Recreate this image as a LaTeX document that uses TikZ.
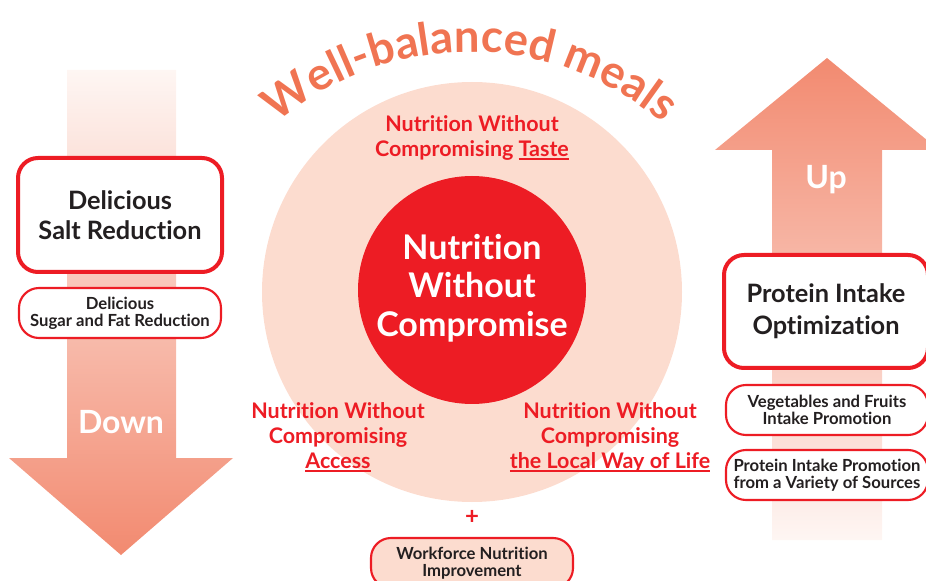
\documentclass[tikz,border=0pt]{standalone}
\usepackage{fontspec}
\setmainfont{Lato}[Ligatures={NoCommon}]
\usetikzlibrary{decorations.text}
\definecolor{cred}{HTML}{ED1C24}
\definecolor{peach}{HTML}{FCDCCF}
\definecolor{wbc}{HTML}{F07452}
\definecolor{adark}{HTML}{F28A70}
\definecolor{amid}{HTML}{F9CDBF}
\definecolor{alight}{HTML}{FEF6F3}
\definecolor{ink}{HTML}{231F20}
\newcommand{\ulx}[1]{\setbox0\hbox{#1}\rlap{\rule[-2.8pt]{\wd0}{1.4pt}}\box0}
\tikzset{
  redlbl/.style={text=cred, align=center, font=\bfseries\fontsize{16.1}{18.8}\selectfont, inner sep=0pt},
  coretxt/.style={text=white, align=center, font=\bfseries\fontsize{25.5}{29}\selectfont, inner sep=0pt},
  bigbox/.style={draw=cred, line width=3pt, fill=white, rounded corners=15pt, align=center, text=ink,
     font=\bfseries\fontsize{19}{22.5}\selectfont, inner sep=0pt},
  smallbox/.style={draw=cred, line width=1.6pt, fill=white, rounded corners=15pt, align=center, text=ink,
     font=\bfseries\fontsize{12.5}{13}\selectfont, inner sep=0pt},
  dirtxt/.style={text=white, font=\bfseries\fontsize{24}{26}\selectfont, inner sep=0pt},
}
\begin{document}
\begin{tikzpicture}[x=0.75pt,y=-0.75pt]
\useasboundingbox (0,0) rectangle (926,581);
\clip (0,0) rectangle (926,581);
% arrows
\shade[top color=alight, middle color=amid, bottom color=adark]
  (67,70) -- (176,70) -- (176,458) -- (233,458) -- (121,555) -- (9,458) -- (67,458) -- cycle;
\shade[top color=adark, middle color=amid, bottom color=alight]
  (827,58) -- (939,150) -- (882,150) -- (882,540) -- (772,540) -- (772,150) -- (715,150) -- cycle;
\node[dirtxt] (down) at (121,422) {Down};
\node[dirtxt] (up) at (826,180) {Up};
% circles
\fill[peach] (472,292) circle[radius=157.5pt];
\fill[cred] (472,290) circle[radius=85.5pt];
\node[coretxt] (core) at (472,288) {Nutrition\\Without\\Compromise};
% arc title
\coordinate (arcc) at (470,348);
\path[decorate, decoration={text along path, text align=center, text color=wbc,
   text={|\bfseries\fontsize{34}{34}\selectfont|Well-balanced meals}}]
  (arcc) ++(143:222pt) arc[start angle=143, end angle=37, radius=222pt];
% red labels
\node[redlbl] (taste) at (472,138) {Nutrition Without\\Compromising \ulx{Taste}};
\node[redlbl] (access) at (338,437) {Nutrition Without\\Compromising\\\ulx{Access}};
\node[redlbl] (local) at (610,437) {Nutrition Without\\Compromising\\\ulx{the Local Way of Life}};
% left boxes
\node[bigbox, minimum width=153pt, minimum height=85.5pt] (salt) at (120,215) {Delicious\\Salt Reduction};
\node[smallbox, minimum width=151.5pt, minimum height=37.5pt] (sugar) at (120,313) {Delicious\\Sugar and Fat Reduction};
% right boxes
\node[bigbox, minimum width=153pt, minimum height=84.75pt, font=\bfseries\fontsize{19}{24}\selectfont] (protein) at (826,311.5) {Protein Intake\\Optimization};
\node[smallbox, minimum width=151.5pt, minimum height=37.5pt] (veg) at (827,410) {Vegetables and Fruits\\Intake Promotion};
\node[smallbox, minimum width=151.5pt, minimum height=37.5pt] (variety) at (827,475) {Protein Intake Promotion\\from a Variety of Sources};
% plus and workforce
\node[text=cred, font=\bfseries\fontsize{18}{18}\selectfont, inner sep=0pt] (plus) at (472,517) {+};
\node[smallbox, fill=peach, minimum width=151.5pt, minimum height=37.5pt] (work) at (472,563) {Workforce Nutrition\\Improvement};
\end{tikzpicture}
\end{document}
